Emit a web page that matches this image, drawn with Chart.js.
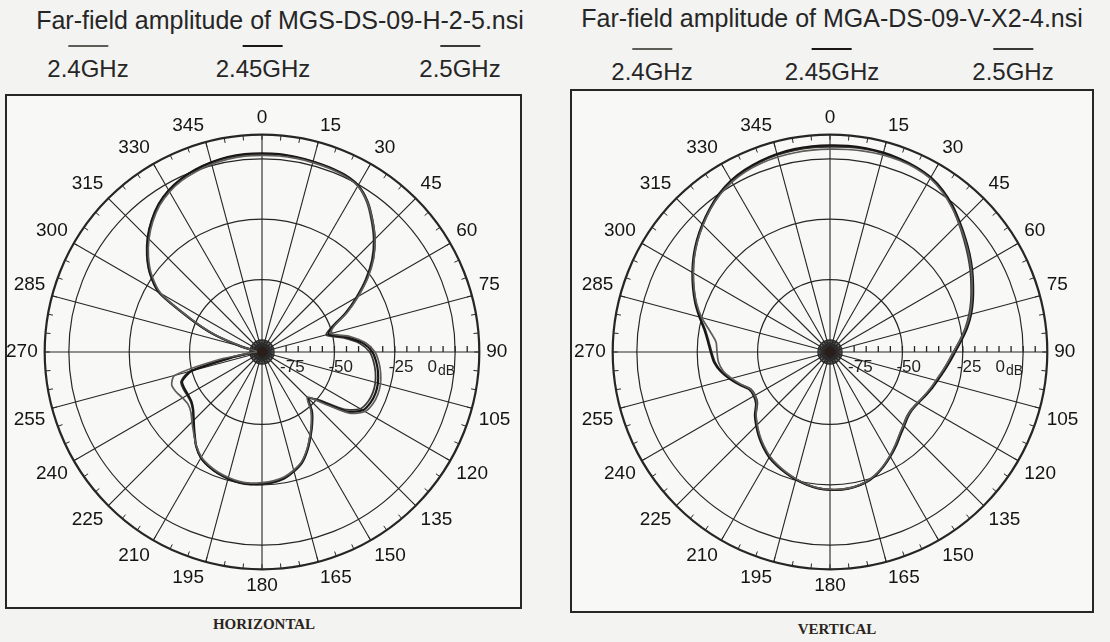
<!DOCTYPE html>
<html>
<head>
<meta charset="utf-8">
<title>Far-field amplitude</title>
<script src="https://cdn.jsdelivr.net/npm/chart.js@4/dist/chart.umd.min.js"></script>
<style>
  body { margin: 0; width: 1110px; height: 642px; position: relative; overflow: hidden;
         background: #f3f3f1; font-family: "Liberation Sans", Arial, sans-serif; color: #262626; }
  .title { position: absolute; font-size: 25px; white-space: nowrap; transform: translateX(-50%); }
  .leg { position: absolute; font-size: 24px; white-space: nowrap; transform: translateX(-50%); text-align: center; }
  .leg i { display: block; width: 40px; height: 2px; margin: 0 auto 8px; }
  .box { position: absolute; border: 2px solid #262626; box-sizing: border-box; background: #f8f8f6; }
  canvas { position: absolute; }
  .cap { position: absolute; font-family: "Liberation Serif", serif; font-weight: bold; font-size: 15px;
         transform: translateX(-50%); color: #2a2520; }
</style>
</head>
<body>
<div class="title" style="left:280px; top:6px;">Far-field amplitude of MGS-DS-09-H-2-5.nsi</div>
<div class="title" style="left:832px; top:4px;">Far-field amplitude of MGA-DS-09-V-X2-4.nsi</div>
<div id="leg-h"></div>
<div id="leg-v"></div>
<div class="box" style="left:5px; top:94px; width:517px; height:515px;"></div>
<div class="box" style="left:570px; top:89px; width:524px; height:524px;"></div>
<canvas id="chart-h" width="512" height="512" style="left:3px; top:96px;"></canvas>
<canvas id="chart-v" width="512" height="512" style="left:571px; top:96px;"></canvas>
<div class="cap" style="left:264px; top:616px;">HORIZONTAL</div>
<div class="cap" style="left:837px; top:621px;">VERTICAL</div>

<script>
// 角度（5°刻み、0 = 上、時計回り）
const ANGLES = [0, 5, 10, 15, 20, 25, 30, 35, 40, 45, 50, 55, 60, 65, 70, 75, 80, 85,
  90, 95, 100, 105, 110, 115, 120, 125, 130, 135, 140, 145, 150, 155, 160, 165, 170, 175,
  180, 185, 190, 195, 200, 205, 210, 215, 220, 225, 230, 235, 240, 245, 250, 255, 260, 265,
  270, 275, 280, 285, 290, 295, 300, 305, 310, 315, 320, 325, 330, 335, 340, 345, 350, 355];
// 角度ラベル（15°ごと）
const ANGLE_TICKS = [0, 15, 30, 45, 60, 75, 90, 105, 120, 135, 150, 165,
  180, 195, 210, 225, 240, 255, 270, 285, 300, 315, 330, 345];
// 同心円（dB）と軸上の目盛
const DB_RINGS = [-75, -50, -25, 0, 10];
const DB_LABELS = ['-75', '-50', '-25', '0'];
const AXIS_TICKS = [-70, -65, -60, -55, -50, -45, -40, -35, -30, -25, -20, -15, -10, -5, 0, 5];

const FREQS = ['2.4GHz', '2.45GHz', '2.5GHz'];

// 水平面パターン（dB）
const H_24 = [1.4, 1.5, 1.4, 1.2, 1.0, 0.6, -0.6, -4.0, -8.8, -13.8, -19.6, -26.5, -34.0, -41.0, -48.0, -50.5, -43.0, -36.8,
  -33.2, -31.4, -30.1, -29.2, -28.9, -29.3, -30.7, -35.8, -47.0, -53.5, -48.5, -44.3, -40.2, -35.8, -31.8, -29.3, -27.4, -26.4,
  -25.9, -25.5, -25.6, -26.2, -27.0, -28.2, -29.8, -32.6, -36.0, -39.0, -41.5, -42.5, -42.0, -40.8, -40.2, -42.5, -62.0, -75.0,
  -78.0, -78.0, -77.0, -71.5, -59.5, -47.5, -31.8, -24.2, -18.6, -13.8, -9.6, -6.0, -3.4, -1.6, -0.4, 0.5, 1.1, 1.4];
const H_245 = [2.3, 2.3, 2.0, 1.7, 1.4, 1.0, -0.3, -3.8, -8.8, -14.0, -20.0, -27.0, -34.5, -41.5, -48.5, -51.5, -44.5, -38.0,
  -34.3, -32.5, -31.2, -30.3, -30.0, -30.4, -31.8, -37.0, -48.0, -53.0, -48.0, -44.0, -40.0, -35.5, -31.5, -29.0, -27.0, -26.0,
  -25.5, -25.1, -25.2, -25.8, -26.6, -27.8, -29.5, -32.5, -36.5, -40.0, -42.8, -44.3, -44.6, -44.5, -44.8, -50.0, -68.0, -76.0,
  -78.0, -78.0, -77.0, -71.0, -59.0, -47.0, -31.0, -23.5, -18.0, -13.2, -9.0, -5.4, -2.8, -0.9, 0.4, 1.3, 2.0, 2.3];
const H_25 = [2.0, 2.1, 1.9, 1.6, 1.3, 0.8, -0.6, -4.3, -9.4, -14.6, -20.6, -27.6, -35.0, -42.0, -49.0, -52.5, -46.0, -39.3,
  -35.4, -33.6, -32.3, -31.4, -31.1, -31.5, -33.0, -38.5, -49.0, -52.5, -47.6, -43.6, -39.6, -35.2, -31.2, -28.7, -26.7, -25.7,
  -25.2, -24.9, -25.0, -25.6, -26.4, -27.6, -29.3, -32.3, -36.3, -39.8, -42.6, -44.0, -44.2, -44.0, -44.3, -49.0, -67.0, -76.0,
  -78.0, -78.0, -77.0, -70.5, -58.5, -46.5, -30.5, -23.2, -17.7, -12.9, -8.8, -5.2, -2.6, -0.8, 0.4, 1.2, 1.8, 2.0];

// 垂直面パターン（dB）
const V_24 = [4.0, 4.2, 4.4, 4.5, 4.4, 4.0, 3.0, 1.0, -1.6, -4.5, -7.2, -9.8, -12.4, -15.0, -17.5, -20.0, -22.9, -26.0,
  -28.8, -31.0, -32.9, -34.6, -35.8, -37.0, -38.0, -38.6, -38.3, -37.0, -35.3, -32.9, -30.4, -27.9, -25.7, -24.1, -23.3, -23.0,
  -23.1, -23.5, -24.4, -25.6, -27.0, -28.5, -30.2, -32.4, -34.8, -37.4, -40.0, -43.0, -44.0, -43.6, -40.8, -37.8, -35.0, -33.6,
  -33.2, -32.6, -29.4, -25.0, -21.2, -17.9, -14.6, -11.4, -8.4, -5.6, -2.9, -0.5, 1.3, 2.5, 3.2, 3.6, 3.8, 3.9];
const V_245 = [5.6, 5.7, 5.7, 5.5, 5.1, 4.5, 3.5, 1.6, -1.0, -4.0, -6.8, -9.4, -12.0, -14.6, -17.0, -19.5, -22.3, -25.4,
  -28.2, -30.4, -32.3, -34.0, -35.3, -36.6, -37.8, -38.4, -38.0, -36.6, -34.8, -32.4, -30.0, -27.6, -25.4, -23.9, -23.1, -22.8,
  -22.9, -23.3, -24.2, -25.3, -26.6, -28.0, -29.6, -31.8, -34.2, -36.8, -39.4, -42.6, -43.6, -43.2, -40.2, -37.0, -34.0, -31.8,
  -30.6, -29.2, -27.2, -24.0, -20.6, -17.4, -14.2, -11.0, -8.0, -5.2, -2.5, 0.0, 2.0, 3.3, 4.2, 4.9, 5.3, 5.5];
const V_25 = [5.0, 5.2, 5.3, 5.2, 4.9, 4.3, 3.3, 1.3, -1.4, -4.6, -7.6, -10.3, -12.9, -15.5, -17.9, -20.4, -23.1, -26.1,
  -28.9, -31.0, -32.8, -34.2, -35.6, -36.9, -38.1, -38.8, -38.5, -37.1, -35.2, -32.8, -30.3, -27.8, -25.5, -24.0, -23.2, -22.9,
  -23.0, -23.4, -24.3, -25.5, -26.8, -28.3, -30.0, -32.2, -34.6, -37.2, -40.0, -43.3, -44.2, -43.8, -40.7, -37.4, -34.3, -32.2,
  -31.0, -29.6, -27.6, -24.4, -21.0, -17.8, -14.6, -11.4, -8.4, -5.6, -2.8, -0.3, 1.7, 3.0, 3.9, 4.5, 4.8, 5.0];

const GRID = '#262626';
const SERIES_COLORS = ['#5e5c57', '#1a1616', '#383838'];
const SERIES_WIDTHS = [1.7, 2.2, 1.8];
const FONT = '"Liberation Sans", Arial, sans-serif';

// 凡例（線＋周波数）
function renderLegend(id, centers, top) {
  const el = document.getElementById(id);
  FREQS.forEach((f, k) => {
    const item = document.createElement('div');
    item.className = 'leg';
    item.style.left = centers[k] + 'px';
    item.style.top = top + 'px';
    item.innerHTML = '<i style="background:' + SERIES_COLORS[k] + '"></i>' + f;
    el.appendChild(item);
  });
}
renderLegend('leg-h', [88, 263, 460], 45);
renderLegend('leg-v', [652, 832, 1013], 48);

// 目盛・dBラベル・中心部
const polarDecor = {
  id: 'polarDecor',
  beforeDatasetsDraw(chart) {
    const r = chart.scales.r;
    const ctx = chart.ctx;
    const outer = r.getDistanceFromCenterForValue(r.max);
    const inner = r.getDistanceFromCenterForValue(DB_RINGS[0]);
    ctx.save();
    ctx.strokeStyle = GRID;
    ctx.lineWidth = 1;
    ctx.beginPath();
    chart.data.labels.forEach((a, i) => {
      const p1 = r.getPointPosition(i, outer);
      const p2 = r.getPointPosition(i, outer - 5);
      ctx.moveTo(p1.x, p1.y);
      ctx.lineTo(p2.x, p2.y);
      const c = r.getPointPosition(i, inner);
      ctx.moveTo(r.xCenter, r.yCenter);
      ctx.lineTo(c.x, c.y);
    });
    ctx.stroke();

    // 90°軸上の目盛
    const i90 = chart.data.labels.indexOf(90);
    ctx.beginPath();
    AXIS_TICKS.forEach((v) => {
      const p = r.getPointPosition(i90, r.getDistanceFromCenterForValue(v));
      ctx.moveTo(p.x, p.y);
      ctx.lineTo(p.x, p.y - 6);
    });
    ctx.lineWidth = 1.3;
    ctx.stroke();

    // dBラベル
    ctx.fillStyle = '#1f1f1f';
    ctx.textBaseline = 'middle';
    ctx.font = '17px ' + FONT;
    const y = r.yCenter + 15;
    DB_LABELS.forEach((t, k) => {
      const d = r.getDistanceFromCenterForValue(DB_RINGS[k]);
      if (k === 0) {
        ctx.textAlign = 'left';
        ctx.fillText(t, r.xCenter + d + 6, y);
      } else if (k === DB_LABELS.length - 1) {
        ctx.font = '14px ' + FONT;
        ctx.textAlign = 'right';
        ctx.fillText('dB', r.xCenter + d, y + 4);
        const w = ctx.measureText('dB').width;
        ctx.font = '17px ' + FONT;
        ctx.fillText(t, r.xCenter + d - w - 1, y);
      } else {
        ctx.textAlign = 'left';
        ctx.fillText(t, r.xCenter + d - 6, y);
      }
    });
    ctx.restore();
  },
  afterDatasetsDraw(chart) {
    const r = chart.scales.r;
    const ctx = chart.ctx;
    ctx.save();
    ctx.fillStyle = '#2a1e1a';
    ctx.beginPath();
    ctx.arc(r.xCenter, r.yCenter, 5, 0, Math.PI * 2);
    ctx.fill();
    ctx.restore();
  },
};

function makePolar(canvasId, seriesList) {
  return new Chart(document.getElementById(canvasId), {
    type: 'radar',
    data: {
      labels: ANGLES,
      datasets: FREQS.map((f, k) => ({
        label: f,
        data: seriesList[k],
        borderColor: SERIES_COLORS[k],
        borderWidth: SERIES_WIDTHS[k],
        pointRadius: 0,
        fill: false,
        tension: 0.25,
      })),
    },
    options: {
      responsive: false,
      animation: false,
      plugins: { legend: { display: false }, tooltip: { enabled: false } },
      scales: {
        r: {
          min: -80,
          max: 10,
          afterBuildTicks: (scale) => { scale.ticks = DB_RINGS.map((v) => ({ value: v })); },
          ticks: { display: false },
          grid: {
            circular: true,
            color: GRID,
            lineWidth: (c) => (c.tick && c.tick.value === DB_RINGS[DB_RINGS.length - 1] ? 2.2 : 1.2),
          },
          angleLines: {
            color: GRID,
            lineWidth: (c) => (ANGLE_TICKS.includes(ANGLES[c.index]) ? 1.1 : 0),
          },
          pointLabels: {
            padding: 7,
            color: '#141414',
            font: { family: FONT, size: 19, lineHeight: 1 },
            callback: (lbl) => (ANGLE_TICKS.includes(lbl) ? String(lbl) : ''),
          },
        },
      },
    },
    plugins: [polarDecor],
  });
}

makePolar('chart-h', [H_24, H_245, H_25]);
makePolar('chart-v', [V_24, V_245, V_25]);
</script>
</body>
</html>
